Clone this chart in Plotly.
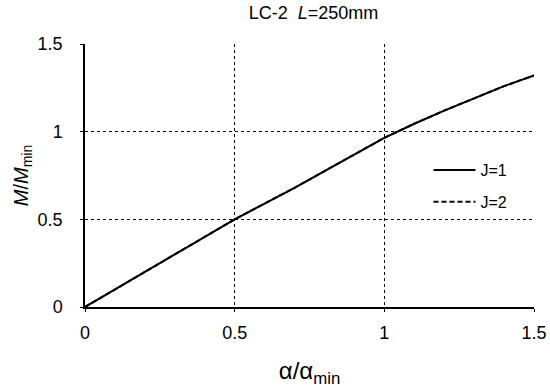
import plotly.graph_objects as go

# alpha / alpha_min and M / M_min
ratio_alpha = [0, 0.25, 0.5, 0.6, 0.7, 0.8, 0.9, 1.0, 1.1, 1.2, 1.3, 1.4, 1.5]
m_j1 = [0, 0.25, 0.5, 0.59, 0.68, 0.775, 0.87, 0.965, 1.045, 1.12, 1.19, 1.26, 1.32]
m_j2 = [0, 0.25, 0.5, 0.59, 0.68, 0.775, 0.87, 0.965, 1.045, 1.12, 1.19, 1.26, 1.32]

fnt = "Liberation Sans, Arial, sans-serif"

fig = go.Figure()
fig.add_trace(go.Scatter(x=ratio_alpha, y=m_j1, mode="lines", name="J=1",
                         legendgroup="a", line=dict(color="black", width=2)))
fig.add_trace(go.Scatter(x=ratio_alpha, y=m_j2, mode="lines", name="J=2",
                         legendgroup="b", line=dict(color="black", width=2, dash="5px,3px")))

fig.update_layout(
    width=550, height=391,
    margin=dict(l=85, r=16, t=44, b=84),
    paper_bgcolor="white", plot_bgcolor="white",
    font=dict(family=fnt, size=18, color="black"),
    title=dict(text="LC-2  <i>L</i>=250mm", x=0.57, xanchor="center",
               y=0.968, yanchor="middle", font=dict(size=18)),
    legend=dict(x=0.765, y=0.585, xanchor="left", yanchor="top", itemwidth=42,
                bgcolor="rgba(0,0,0,0)", tracegroupgap=8, font=dict(size=16)),
    showlegend=True,
)
fig.update_xaxes(range=[0, 1.5], tickvals=[0, 0.5, 1, 1.5], ticktext=["0", "0.5", "1", "1.5"],
                 showgrid=True, gridcolor="black", griddash="dot", gridwidth=1,
                 showline=True, linecolor="black", linewidth=1.5, automargin=False,
                 ticks="outside", ticklen=3, tickcolor="black", zeroline=False,
                 ticklabelstandoff=6,
                 title=dict(text="α/α<sub>min</sub>", font=dict(size=24), standoff=20))
fig.update_yaxes(range=[0, 1.5], tickvals=[0, 0.5, 1, 1.5], ticktext=["0", "0.5", "1", "1.5"],
                 showgrid=True, gridcolor="black", griddash="dot", gridwidth=1,
                 showline=True, linecolor="black", linewidth=1.5, automargin=False,
                 ticks="outside", ticklen=3, tickcolor="black", zeroline=False,
                 ticklabelstandoff=14,
                 title=dict(text="<i>M</i>/<i>M</i><sub>min</sub>", font=dict(size=20), standoff=4))

fig.write_html("out.html", config={"displayModeBar": False},
               post_script="document.body.style.margin='0';")
